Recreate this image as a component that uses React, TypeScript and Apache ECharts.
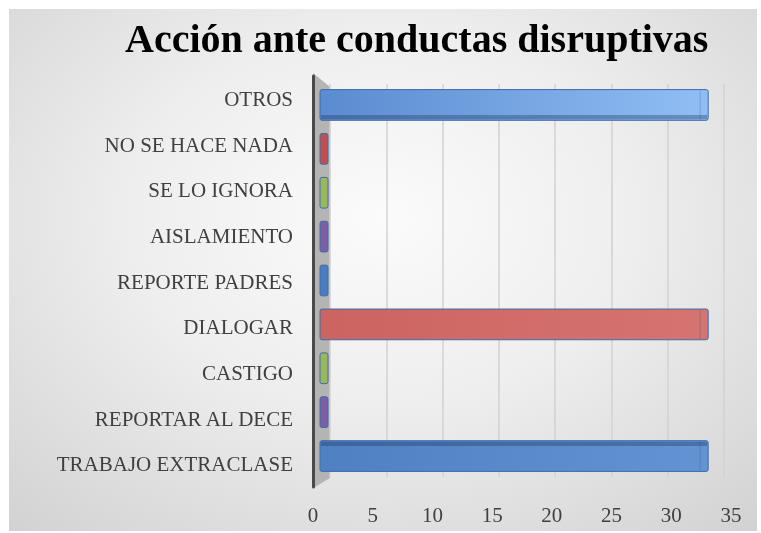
import React, { useEffect, useRef } from "react";
import * as echarts from "echarts";

const titleText = "Acción ante conductas disruptivas";
const categories = [
  "TRABAJO EXTRACLASE",
  "REPORTAR AL DECE",
  "CASTIGO",
  "DIALOGAR",
  "REPORTE PADRES",
  "AISLAMIENTO",
  "SE LO IGNORA",
  "NO SE HACE NADA",
  "OTROS",
];
const values = [33.3, 0, 0, 33.3, 0, 0, 0, 0, 33.3];
const axisMin = 0;
const axisMax = 35;
const axisStep = 5;

// style: per-point fill (start, end of horizontal gradient)
const pointColors: [string, string][] = [
  ["#4f80c1", "#6393d2"],
  ["#7d5ea2", "#7d5ea2"],
  ["#9ab858", "#9ab858"],
  ["#cc6461", "#d57471"],
  ["#4a7cbe", "#4a7cbe"],
  ["#7d5ea2", "#7d5ea2"],
  ["#9ab858", "#9ab858"],
  ["#c0504d", "#c0504d"],
  ["#5b8bd0", "#90bef4"],
];

const FONT = "'Liberation Serif', 'DejaVu Serif', serif";

export default function App() {
  const ref = useRef<HTMLDivElement>(null);
  useEffect(() => {
    if (!ref.current) return;
    const chart = echarts.init(ref.current, null, { renderer: "svg" });
    const barData = values.map((v, i) => [v, i]);
    chart.setOption({
      animation: false,
      backgroundColor: "transparent",
      title: {
        text: titleText,
        left: 111,
        top: 4,
        textStyle: { fontFamily: FONT, fontWeight: "bold", fontSize: 40, color: "#000" },
      },
      grid: [
        { left: 321, right: 33, top: 75, bottom: 54 },
        { left: 311, right: 29, top: 74, bottom: 53 },
        { left: 304, right: 26, top: 67, bottom: 44 },
      ],
      xAxis: [
        {
          gridIndex: 0, type: "value", min: axisMin, max: axisMax, interval: axisStep,
          axisLabel: { show: false }, axisLine: { show: false }, axisTick: { show: false },
          splitLine: { show: true, lineStyle: { color: "#d2d2d2", width: 1.5 } },
        },
        {
          gridIndex: 1, type: "value", min: axisMin, max: axisMax, interval: axisStep,
          axisLabel: { show: false }, axisLine: { show: false }, axisTick: { show: false },
          splitLine: { show: false },
        },
        {
          gridIndex: 2, type: "value", min: axisMin, max: axisMax, interval: axisStep,
          axisLine: { show: false }, axisTick: { show: false }, splitLine: { show: false },
          axisLabel: { fontFamily: FONT, fontSize: 21, color: "#404040", margin: 17 },
        },
      ],
      yAxis: [
        { gridIndex: 0, type: "category", data: categories, show: false },
        { gridIndex: 1, type: "category", data: categories, show: false },
        {
          gridIndex: 2, type: "category", data: categories, z: 5,
          axisTick: { show: false },
          axisLine: { show: true, lineStyle: { color: "#4a4a4a", width: 3 } },
          axisLabel: { fontFamily: FONT, fontSize: 21, color: "#404040", margin: 20 },
        },
      ],
      graphic: [
        {
          type: "polygon",
          z: 0,
          shape: { points: [[304, 64], [321, 78], [321, 469], [306, 478]] },
          style: { fill: "#b4b4b4" },
        },
      ],
      series: [
        {
          type: "custom",
          xAxisIndex: 1,
          yAxisIndex: 1,
          z: 3,
          data: barData,
          renderItem: (params: any, api: any) => {
            const val = api.value(0);
            const idx = api.value(1);
            const s = api.coord([0, idx]);
            const e = api.coord([val, idx]);
            const band = api.size([0, 1])[1];
            const h = band * 0.7;
            const w = Math.max(e[0] - s[0], 8);
            const x = s[0];
            const y = s[1] - h / 2;
            const cs = params.coordSys;
            const cy = cs.y + cs.height / 2;
            const off = (s[1] - cy) / (cs.height / 2);
            const depth = Math.abs(off) * 6;
            const [c0, c1] = pointColors[params.dataIndex];
            const children: any[] = [
              {
                type: "rect",
                shape: { x, y, width: w, height: h, r: 2 },
                style: {
                  fill: {
                    type: "linear", x: 0, y: 0, x2: 1, y2: 0,
                    colorStops: [{ offset: 0, color: c0 }, { offset: 1, color: c1 }],
                  },
                  stroke: "#3d6cab",
                  lineWidth: 1,
                },
              },
            ];
            if (depth > 1.5 && w > 20) {
              children.push({
                type: "rect",
                shape: {
                  x: x + 1,
                  y: off < 0 ? y + h - depth : y + 1,
                  width: w - 2,
                  height: depth - 1,
                },
                style: { fill: "rgba(30,50,90,0.35)" },
              });
            }
            if (w > 20) {
              children.push({
                type: "line",
                shape: { x1: x + w - 8, y1: y + 1, x2: x + w - 8, y2: y + h - 1 },
                style: { stroke: "rgba(40,70,120,0.25)", lineWidth: 1 },
              });
            }
            return { type: "group", children };
          },
        },
      ],
    });
    return () => chart.dispose();
  }, []);
  return (
    <div
      ref={ref}
      style={{
        position: "fixed",
        left: 9,
        top: 9,
        width: 748,
        height: 522,
        background:
          "radial-gradient(ellipse 75% 80% at 50% 40%, #fbfbfb 0%, #eeeeee 45%, #d2d2d2 100%)",
      }}
    />
  );
}
